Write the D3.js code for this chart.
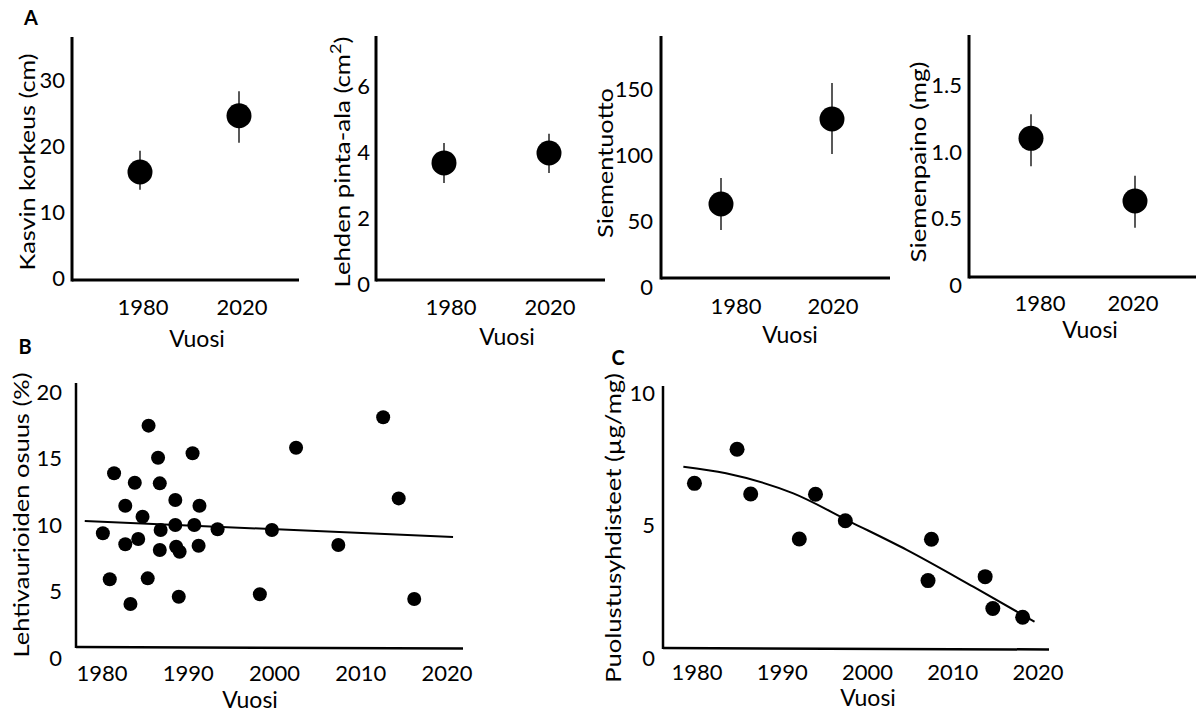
<!DOCTYPE html>
<html>
<head>
<meta charset="utf-8">
<script src="https://cdn.jsdelivr.net/npm/d3@7/dist/d3.min.js"></script>
<style>
  html, body { margin: 0; padding: 0; background: #fff; }
  svg { display: block; }
  text { font-family: Lato, "Open Sans", sans-serif; fill: #000; }
</style>
</head>
<body>
<svg id="chart" width="1196" height="713"></svg>
<script>
// ---------------- DATA ----------------
// Panel A (four small dot + error-bar plots)
const aCategories = ["1980", "2020"];
const aTitles = ["Kasvin korkeus (cm)", "Lehden pinta-ala (cm²)", "Siementuotto", "Siemenpaino (mg)"];
const aTicks1 = [0, 10, 20, 30];
const aTicks2 = [0, 2, 4, 6];
const aTicks3 = [0, 50, 100, 150];
const aTicks4 = [0, 0.5, 1.0, 1.5];
const aTickLabels4 = ["0", "0.5", "1.0", "1.5"];
const aMean1 = [16.1, 24.6];
const aLow1 = [13.4, 20.5];
const aHigh1 = [19.3, 28.3];
const aMean2 = [3.67, 3.97];
const aLow2 = [3.06, 3.36];
const aHigh2 = [4.27, 4.55];
const aMean3 = [62.9, 127.3];
const aLow3 = [43.2, 100.8];
const aHigh3 = [82.6, 154.5];
const aMean4 = [1.10, 0.63];
const aLow4 = [0.89, 0.43];
const aHigh4 = [1.28, 0.82];

// Panel B (scatter + linear trend)
const bYears = [1980.1, 1980.9, 1981.4, 1982.7, 1982.7, 1983.3, 1983.8, 1984.2, 1984.7, 1985.3,
                1985.4, 1986.5, 1986.7, 1986.7, 1986.8, 1988.5, 1988.5, 1988.6, 1989.0, 1988.9,
                1990.5, 1990.7, 1991.3, 1991.2, 1993.4, 1999.7, 1998.3, 2002.5, 2012.6, 2014.4,
                2007.4, 2016.2];
const bValues = [9.38, 5.92, 13.89, 11.45, 8.55, 4.06, 13.18, 8.95, 10.62, 5.99,
                 17.47, 15.06, 13.13, 8.12, 9.62, 11.88, 10.0, 8.37, 7.99, 4.61,
                 15.39, 10.0, 11.45, 8.44, 9.68, 9.62, 4.79, 15.81, 18.1, 12.0,
                 8.5, 4.44];
const bTrendYears = [1978.0, 2020.7];
const bTrendValues = [10.3, 9.1];
const bXTicks = [1980, 1990, 2000, 2010, 2020];
const bYTicks = [0, 5, 10, 15, 20];
const bYTitle = "Lehtivaurioiden osuus (%)";

// Panel C (scatter + smooth fitted curve)
const cYears = [1979.7, 1984.7, 1986.3, 1992.0, 1993.9, 1997.4, 2007.5, 2007.1, 2013.8, 2014.7, 2018.2];
const cValues = [6.59, 7.88, 6.19, 4.49, 6.18, 5.18, 4.48, 2.92, 3.07, 1.87, 1.54];
const cCurveYears = [1978.4, 1983.4, 1991.3, 1998.0, 2004.6, 2012.4, 2019.6];
const cCurveValues = [7.22, 6.97, 6.21, 5.14, 4.08, 2.69, 1.37];
const cXTicks = [1980, 1990, 2000, 2010, 2020];
const cYTicks = [0, 5, 10];
const cYTitle = "Puolustusyhdisteet (µg/mg)";

const xTitle = "Vuosi";

// ---------------- LAYOUT ----------------
const svg = d3.select("#chart");
const FS = 22;

// rotated y title, stretched along its length to the wanted span
function yTitle(g, cx, cy, span, build) {
  const t = g.append("text").attr("dy", "0.36em").attr("text-anchor", "middle").attr("font-size", FS);
  build(t);
  const len = t.node().getComputedTextLength();
  const sx = span / len;
  t.attr("transform", `translate(${cx},${cy}) rotate(-90) scale(${sx},1)`);
  return t;
}

const aLayout = [
  { axX: [72, 299], axTop: 37, axBottom: 280, yRange: [278.5, 80], ptRange: [140, 239], lbRange: [143, 242], lbY: 307, tickRight: 65, titleX: 27, titleY: 162, titleSpan: 217, vuosi: [197, 339] },
  { axX: [376, 605], axTop: 36, axBottom: 280, yRange: [284, 86], ptRange: [444, 549], lbRange: [451, 550], lbY: 307, tickRight: 370, titleX: 342, titleY: 162, titleSpan: 251, vuosi: [507, 337] },
  { axX: [661, 890], axTop: 36, axBottom: 278, yRange: [287, 89], ptRange: [721, 832], lbRange: [736, 833], lbY: 306, tickRight: 653, titleX: 605, titleY: 163, titleSpan: 150, vuosi: [790, 335] },
  { axX: [969, 1196], axTop: 35, axBottom: 277, yRange: [285, 85], ptRange: [1031, 1135], lbRange: [1040, 1133], lbY: 303, tickRight: 962, titleX: 918, titleY: 162, titleSpan: 201, vuosi: [1090, 330] }
];

const aPanels = [
  { ticks: aTicks1, labels: aTicks1.map(String), mean: aMean1, low: aLow1, high: aHigh1 },
  { ticks: aTicks2, labels: aTicks2.map(String), mean: aMean2, low: aLow2, high: aHigh2 },
  { ticks: aTicks3, labels: aTicks3.map(String), mean: aMean3, low: aLow3, high: aHigh3 },
  { ticks: aTicks4, labels: aTickLabels4, mean: aMean4, low: aLow4, high: aHigh4 }
];

aPanels.forEach((p, i) => {
  const L = aLayout[i];
  const g = svg.append("g");
  const y = d3.scaleLinear().domain([0, d3.max(p.ticks)]).range(L.yRange);
  const xPt = d3.scalePoint().domain(aCategories).range(L.ptRange);
  const xLb = d3.scalePoint().domain(aCategories).range(L.lbRange);

  // axis lines
  g.append("line").attr("x1", L.axX[0]).attr("x2", L.axX[0]).attr("y1", L.axTop).attr("y2", L.axBottom + 1.5)
    .attr("stroke", "#000").attr("stroke-width", 3);
  g.append("line").attr("x1", L.axX[0]).attr("x2", L.axX[1]).attr("y1", L.axBottom).attr("y2", L.axBottom)
    .attr("stroke", "#000").attr("stroke-width", 3);

  // y tick labels
  g.selectAll(".yt").data(p.ticks).join("text")
    .attr("x", L.tickRight).attr("y", d => y(d)).attr("dy", "0.36em")
    .attr("text-anchor", "end").attr("font-size", FS)
    .text((d, k) => p.labels[k]);

  // x tick labels
  g.selectAll(".xt").data(aCategories).join("text")
    .attr("x", d => xLb(d)).attr("y", L.lbY).attr("dy", "0.36em")
    .attr("text-anchor", "middle").attr("font-size", FS).text(d => d);

  // x title
  g.append("text").attr("x", L.vuosi[0]).attr("y", L.vuosi[1]).attr("dy", "0.36em")
    .attr("text-anchor", "middle").attr("font-size", FS + 1).text(xTitle);

  // y title
  yTitle(g, L.titleX, L.titleY, L.titleSpan, t => {
    if (aTitles[i].includes("²")) {
      const parts = aTitles[i].split("²");
      t.append("tspan").text(parts[0]);
      t.append("tspan").attr("font-size", FS * 0.7).attr("dy", "-0.55em").text("2");
      t.append("tspan").attr("dy", "0.4em").text(parts[1]);
    } else {
      t.text(aTitles[i]);
    }
  });

  // error bars
  g.selectAll(".eb").data(aCategories).join("line")
    .attr("x1", d => xPt(d)).attr("x2", d => xPt(d))
    .attr("y1", (d, k) => y(p.low[k])).attr("y2", (d, k) => y(p.high[k]))
    .attr("stroke", "#222").attr("stroke-width", 1.5);

  // points
  g.selectAll(".pt").data(aCategories).join("circle")
    .attr("cx", d => xPt(d)).attr("cy", (d, k) => y(p.mean[k])).attr("r", 12.5)
    .attr("fill", "#000");
});

// panel letters
svg.append("text").attr("x", 31).attr("y", 18).attr("dy", "0.36em").attr("text-anchor", "middle")
  .attr("font-size", 20).attr("font-weight", "bold").text("A");
svg.append("text").attr("x", 25).attr("y", 347).attr("dy", "0.36em").attr("text-anchor", "middle")
  .attr("font-size", 20).attr("font-weight", "bold").text("B");
svg.append("text").attr("x", 618).attr("y", 358).attr("dy", "0.36em").attr("text-anchor", "middle")
  .attr("font-size", 20).attr("font-weight", "bold").text("C");

// ---------------- PANEL B ----------------
(function () {
  const L = { axX: [76, 463], axTop: 383, axBottom: 647, tickRight: 62, lbY: 673, titleX: 21, titleY: 515, titleSpan: 285, vuosi: [250, 700] };
  const g = svg.append("g");
  const x = d3.scaleLinear().domain([1980, 2020]).range([102, 447]);
  const y = d3.scaleLinear().domain([0, 20]).range([658, 392]);

  g.append("line").attr("x1", L.axX[0]).attr("x2", L.axX[0]).attr("y1", L.axTop).attr("y2", L.axBottom + 1)
    .attr("stroke", "#000").attr("stroke-width", 2.5);
  g.append("line").attr("x1", L.axX[0]).attr("x2", L.axX[1]).attr("y1", L.axBottom).attr("y2", L.axBottom + 1.5)
    .attr("stroke", "#000").attr("stroke-width", 2.5);

  g.selectAll(".yt").data(bYTicks).join("text")
    .attr("x", L.tickRight).attr("y", d => y(d)).attr("dy", "0.36em")
    .attr("text-anchor", "end").attr("font-size", FS).text(d => d);
  g.selectAll(".xt").data(bXTicks).join("text")
    .attr("x", d => x(d)).attr("y", L.lbY).attr("dy", "0.36em")
    .attr("text-anchor", "middle").attr("font-size", FS).text(d => d);
  g.append("text").attr("x", L.vuosi[0]).attr("y", L.vuosi[1]).attr("dy", "0.36em")
    .attr("text-anchor", "middle").attr("font-size", FS + 1).text(xTitle);
  yTitle(g, L.titleX, L.titleY, L.titleSpan, t => t.text(bYTitle));

  const line = d3.line().x(d => x(d[0])).y(d => y(d[1]));
  g.append("path").datum(d3.zip(bTrendYears, bTrendValues)).attr("d", line)
    .attr("fill", "none").attr("stroke", "#000").attr("stroke-width", 2);

  g.selectAll(".pt").data(d3.zip(bYears, bValues)).join("circle")
    .attr("cx", d => x(d[0])).attr("cy", d => y(d[1])).attr("r", 7)
    .attr("fill", "#000");
})();

// ---------------- PANEL C ----------------
(function () {
  const L = { axX: [663, 1049], axTop: 386, axBottom: 648, tickRight: 655, lbY: 672, titleX: 613, titleY: 528, titleSpan: 310, vuosi: [868, 698] };
  const g = svg.append("g");
  const x = d3.scaleLinear().domain([1980, 2020]).range([697, 1038]);
  const y = d3.scaleLinear().domain([0, 10]).range([658, 393]);

  g.append("line").attr("x1", L.axX[0]).attr("x2", L.axX[0]).attr("y1", L.axTop).attr("y2", L.axBottom + 1)
    .attr("stroke", "#000").attr("stroke-width", 2.5);
  g.append("line").attr("x1", L.axX[0]).attr("x2", L.axX[1]).attr("y1", L.axBottom).attr("y2", L.axBottom + 1.5)
    .attr("stroke", "#000").attr("stroke-width", 2.5);

  g.selectAll(".yt").data(cYTicks).join("text")
    .attr("x", L.tickRight).attr("y", d => y(d)).attr("dy", "0.36em")
    .attr("text-anchor", "end").attr("font-size", FS).text(d => d);
  g.selectAll(".xt").data(cXTicks).join("text")
    .attr("x", d => x(d)).attr("y", L.lbY).attr("dy", "0.36em")
    .attr("text-anchor", "middle").attr("font-size", FS).text(d => d);
  g.append("text").attr("x", L.vuosi[0]).attr("y", L.vuosi[1]).attr("dy", "0.36em")
    .attr("text-anchor", "middle").attr("font-size", FS + 1).text(xTitle);
  yTitle(g, L.titleX, L.titleY, L.titleSpan, t => t.text(cYTitle));

  const line = d3.line().x(d => x(d[0])).y(d => y(d[1])).curve(d3.curveMonotoneX);
  g.append("path").datum(d3.zip(cCurveYears, cCurveValues)).attr("d", line)
    .attr("fill", "none").attr("stroke", "#000").attr("stroke-width", 2);

  g.selectAll(".pt").data(d3.zip(cYears, cValues)).join("circle")
    .attr("cx", d => x(d[0])).attr("cy", d => y(d[1])).attr("r", 7.5)
    .attr("fill", "#000");
})();
</script>
</body>
</html>
